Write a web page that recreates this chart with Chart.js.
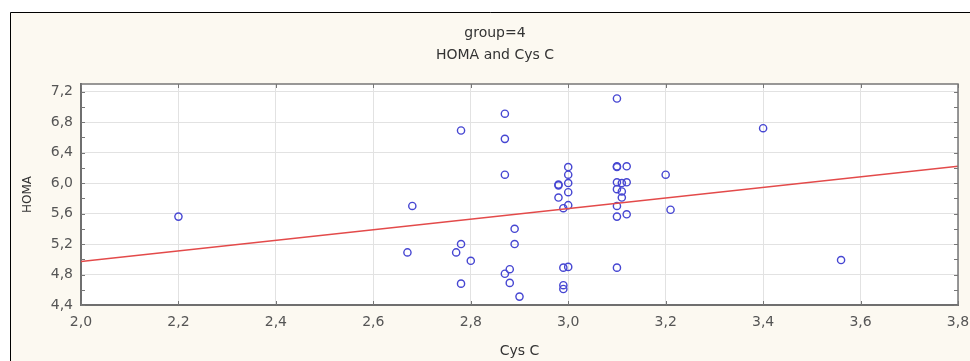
<!DOCTYPE html>
<html>
<head>
<meta charset="utf-8">
<script src="https://cdn.jsdelivr.net/npm/chart.js@4/dist/chart.umd.min.js"></script>
<style>
  html, body { margin: 0; padding: 0; background: #fff; }
  canvas { display: block; }
</style>
</head>
<body>
<canvas id="chart" width="970" height="361"></canvas>
<script>
// values
const cysC = [2.20, 2.67, 2.68, 2.77, 2.78, 2.78, 2.78, 2.80, 2.87, 2.87, 2.87, 2.87,
              2.88, 2.88, 2.89, 2.89, 2.90, 2.98, 2.98, 2.98, 2.99, 2.99, 2.99, 2.99,
              3.00, 3.00, 3.00, 3.00, 3.00, 3.00, 3.10, 3.10, 3.10, 3.12, 3.10, 3.11,
              3.12, 3.10, 3.11, 3.11, 3.10, 3.10, 3.12, 3.10, 3.20, 3.21, 3.40, 3.56];
const homa = [5.56, 5.09, 5.70, 5.09, 5.20, 4.68, 6.69, 4.98, 6.91, 6.58, 6.11, 4.81,
              4.87, 4.69, 5.40, 5.20, 4.51, 5.98, 5.97, 5.81, 5.67, 4.89, 4.66, 4.61,
              6.21, 6.11, 6.00, 5.88, 5.71, 4.90, 7.11, 6.22, 6.21, 6.22, 6.01, 6.00,
              6.01, 5.92, 5.89, 5.81, 5.70, 5.56, 5.59, 4.89, 6.11, 5.65, 6.72, 4.99];

// fitted line end points
const fitX = [2.0, 3.8];
const fitY = [4.97, 6.22];

const xTicks = [2.0, 2.2, 2.4, 2.6, 2.8, 3.0, 3.2, 3.4, 3.6, 3.8];
const yTicks = [4.4, 4.6, 4.8, 5.0, 5.2, 5.4, 5.6, 5.8, 6.0, 6.2, 6.4, 6.6, 6.8, 7.0, 7.2];
const yLabelled = [4.4, 4.8, 5.2, 5.6, 6.0, 6.4, 6.8, 7.2];

const titleLines = ['group=4', 'HOMA and Cys C'];
const xTitle = 'Cys C';
const yTitle = 'HOMA';

const FONT = "'DejaVu Sans', 'Liberation Sans', Arial, sans-serif";
const comma = v => v.toFixed(1).replace('.', ',');

// cream panel with the black frame, white plot area, axis tick marks
const panel = {
  id: 'panel',
  beforeDraw(chart) {
    const { ctx, chartArea: a } = chart;
    ctx.save();
    ctx.fillStyle = '#ffffff';
    ctx.fillRect(0, 0, chart.width, chart.height);
    ctx.fillStyle = '#fcf9f1';
    ctx.fillRect(10, 12, chart.width - 10, chart.height - 12);
    ctx.strokeStyle = '#000';
    ctx.lineWidth = 1;
    ctx.beginPath();
    ctx.moveTo(10.5, chart.height);
    ctx.lineTo(10.5, 12.5);
    ctx.lineTo(chart.width, 12.5);
    ctx.stroke();
    ctx.fillStyle = '#ffffff';
    ctx.fillRect(a.left, a.top, a.right - a.left, a.bottom - a.top);
    ctx.restore();
  },
  afterDraw(chart) {
    const { ctx, chartArea: a, scales } = chart;
    ctx.save();
    ctx.strokeStyle = '#777';
    ctx.lineWidth = 1.5;
    ctx.beginPath();
    ctx.moveTo(a.left, a.top);
    ctx.lineTo(a.right, a.top);
    ctx.lineTo(a.right, a.bottom);
    ctx.stroke();
    ctx.lineWidth = 1;
    ctx.beginPath();
    yTicks.forEach(v => {
      const y = Math.round(scales.y.getPixelForValue(v)) + 0.5;
      ctx.moveTo(a.left, y); ctx.lineTo(a.left + 4, y);
      ctx.moveTo(a.right, y); ctx.lineTo(a.right - 4, y);
    });
    xTicks.forEach(v => {
      const x = Math.round(scales.x.getPixelForValue(v)) + 0.5;
      ctx.moveTo(x, a.bottom); ctx.lineTo(x, a.bottom - 4);
      ctx.moveTo(x, a.top); ctx.lineTo(x, a.top + 4);
    });
    ctx.stroke();
    ctx.restore();
  }
};

new Chart(document.getElementById('chart'), {
  data: {
    datasets: [
      {
        type: 'line',
        data: fitX.map((x, i) => ({ x, y: fitY[i] })),
        borderColor: '#e34a4a',
        borderWidth: 1.6,
        pointRadius: 0,
        fill: false
      },
      {
        type: 'scatter',
        data: cysC.map((x, i) => ({ x, y: homa[i] })),
        pointStyle: 'circle',
        pointRadius: 3.6,
        borderColor: '#4646d2',
        borderWidth: 1.4,
        backgroundColor: 'rgba(0,0,0,0)'
      }
    ]
  },
  options: {
    responsive: false,
    animation: false,
    devicePixelRatio: 1,
    // left padding is wide so the title centres where the original one does
    layout: { padding: { left: 32, right: 12, top: 12, bottom: 0 } },
    plugins: {
      legend: { display: false },
      tooltip: { enabled: false },
      title: {
        display: true,
        text: titleLines,
        color: '#333',
        font: { family: FONT, size: 14, weight: 'normal', lineHeight: 22 / 14 },
        padding: { top: 10, bottom: 18 }
      }
    },
    scales: {
      x: {
        type: 'linear',
        min: 2.0,
        max: 3.8,
        afterBuildTicks: s => { s.ticks = xTicks.map(v => ({ value: v })); },
        afterFit: s => { s.height = 56; s.paddingRight = 0; s.paddingLeft = 0; },
        grid: { color: '#e2e2e2', drawTicks: false },
        border: { color: '#6f6f6f', width: 2 },
        ticks: {
          padding: 9,
          color: '#555',
          font: { family: FONT, size: 14 },
          maxRotation: 0,
          callback: v => comma(v)
        },
        title: {
          display: true,
          text: xTitle,
          color: '#333',
          font: { family: FONT, size: 14 },
          padding: { top: 0, bottom: 1 }
        }
      },
      y: {
        type: 'linear',
        min: 4.4,
        max: 7.3,
        afterBuildTicks: s => { s.ticks = yTicks.map(v => ({ value: v })); },
        afterFit: s => { s.width = 49; },
        grid: { color: '#e2e2e2', drawTicks: false },
        border: { color: '#6f6f6f', width: 2 },
        ticks: {
          padding: 8,
          color: '#555',
          font: { family: FONT, size: 14 },
          callback: v => yLabelled.some(l => Math.abs(l - v) < 1e-6) ? comma(v) : ''
        },
        title: {
          display: true,
          text: yTitle,
          color: '#333',
          font: { family: FONT, size: 12 },
          padding: { top: -11, bottom: 0 }
        }
      }
    }
  },
  plugins: [panel]
});
</script>
</body>
</html>
